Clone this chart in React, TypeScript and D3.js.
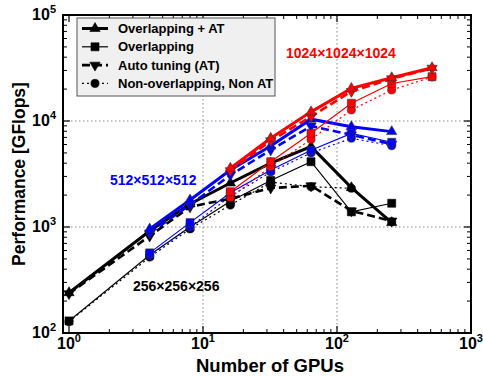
import React from "react";
import * as d3 from "d3";

const gpus = [1, 4, 8, 16, 32, 64, 128, 256, 512];

// 256x256x256 (black)
const blackOverAT = [240, 916, 1650, 2600, 4000, 5730, 2350, 1100];
const blackOver = [130, 545, 1000, 1750, 2750, 4130, 1390, 1675];
const blackAT = [235, 822, 1550, 1850, 2330, 2450, 1420, 1140];
const blackNon = [128, 520, 960, 1610, 2650, 2400, 2320, 1120];

// 512x512x512 (blue), from 4 GPUs
const blueOverAT = [957, 1800, 3450, 5800, 10400, 8830, 7940];
const blueOver = [570, 1100, 2100, 3450, 5300, 7650, 6300];
const blueAT = [876, 1620, 3090, 5320, 8960, 7400, 6050];
const blueNon = [540, 1000, 1950, 3300, 5000, 6870, 5850];

// 1024x1024x1024 (red), from 16 GPUs
const redOverAT = [3580, 6870, 12200, 20300, 25600, 31800];
const redOver = [2150, 4130, 7650, 14700, 22600, 26200];
const redAT = [3400, 6500, 11000, 19000, 25000, 31500];
const redNon = [1900, 3700, 6700, 12700, 19600, 26000];

const legendLabels = ["Overlapping + AT", "Overlapping", "Auto tuning (AT)", "Non-overlapping, Non AT"];
const xTicks = [1, 10, 100, 1000];
const yTicks = [100, 1000, 10000, 100000];
const sizeLabels = ["1024×1024×1024", "512×512×512", "256×256×256"];

type Style = { width: number; dash: string | null; marker: "up" | "down" | "square" | "circle" };
const styles: Style[] = [
  { width: 3, dash: null, marker: "up" },
  { width: 1.2, dash: null, marker: "square" },
  { width: 2.6, dash: "8,4", marker: "down" },
  { width: 1.2, dash: "2,3", marker: "circle" },
];

const FONT = "'Liberation Sans', Arial, Helvetica, sans-serif";

function markerPath(kind: string): string {
  if (kind === "up") return d3.symbol(d3.symbolTriangle, 46)() as string;
  if (kind === "down") return d3.symbol(d3.symbolTriangle, 46)() as string;
  if (kind === "square") return d3.symbol(d3.symbolSquare, 64)() as string;
  return d3.symbol(d3.symbolCircle, 52)() as string;
}

export default function App() {
  const W = 483, H = 377;
  const left = 63, right = 471, top = 15, bottom = 333;
  const x = d3.scaleLog().domain([0.902, 1000]).range([left, right]);
  const y = d3.scaleLog().domain([100, 100000]).range([bottom, top]);

  const groups = [
    { color: "#000000", start: 0, series: [blackOverAT, blackOver, blackAT, blackNon] },
    { color: "#0000ff", start: 1, series: [blueOverAT, blueOver, blueAT, blueNon] },
    { color: "#ff0000", start: 3, series: [redOverAT, redOver, redAT, redNon] },
  ];

  const line = d3.line<[number, number]>().x((d) => x(d[0])).y((d) => y(d[1]));

  const drawOrder = [3, 1, 2, 0];

  const xMinor: number[] = [];
  for (let e = 0; e < 3; e++) for (let k = 2; k <= 9; k++) xMinor.push(k * Math.pow(10, e));
  const yMinor: number[] = [];
  for (let e = 2; e < 5; e++) for (let k = 2; k <= 9; k++) yMinor.push(k * Math.pow(10, e));

  const renderMarker = (kind: string, cx: number, cy: number, fill: string, key: string) => (
    <path
      key={key}
      d={markerPath(kind)}
      transform={`translate(${cx},${cy})${kind === "down" ? " rotate(180)" : ""}`}
      fill={fill}
      stroke={fill === "#000000" ? "#000" : "#333"}
      strokeWidth={0.6}
    />
  );

  return (
    <svg width={W} height={H} style={{ display: "block", position: "absolute", left: 0, top: 0 }} fontFamily={FONT}>
      <rect x={0} y={0} width={W} height={H} fill="#fff" />
      {/* grid */}
      {[10, 100].map((v) => (
        <line key={"gx" + v} x1={x(v)} x2={x(v)} y1={top} y2={bottom} stroke="#888" strokeWidth={1} strokeDasharray="1.5,2.5" />
      ))}
      {[1000, 10000].map((v) => (
        <line key={"gy" + v} x1={left} x2={right} y1={y(v)} y2={y(v)} stroke="#888" strokeWidth={1} strokeDasharray="1.5,2.5" />
      ))}
      {/* ticks */}
      {xTicks.filter((v) => v < 1000).map((v) => (
        <g key={"xt" + v}>
          <line x1={x(v)} x2={x(v)} y1={bottom} y2={bottom - 7} stroke="#000" strokeWidth={1.2} />
          <line x1={x(v)} x2={x(v)} y1={top} y2={top + 7} stroke="#000" strokeWidth={1.2} />
        </g>
      ))}
      {xMinor.map((v) => (
        <g key={"xm" + v}>
          <line x1={x(v)} x2={x(v)} y1={bottom} y2={bottom - 4} stroke="#000" strokeWidth={1} />
          <line x1={x(v)} x2={x(v)} y1={top} y2={top + 4} stroke="#000" strokeWidth={1} />
        </g>
      ))}
      {yTicks.map((v) => (
        <g key={"yt" + v}>
          <line x1={left} x2={left + 7} y1={y(v)} y2={y(v)} stroke="#000" strokeWidth={1.2} />
          <line x1={right} x2={right - 7} y1={y(v)} y2={y(v)} stroke="#000" strokeWidth={1.2} />
        </g>
      ))}
      {yMinor.map((v) => (
        <g key={"ym" + v}>
          <line x1={left} x2={left + 4} y1={y(v)} y2={y(v)} stroke="#000" strokeWidth={1} />
          <line x1={right} x2={right - 4} y1={y(v)} y2={y(v)} stroke="#000" strokeWidth={1} />
        </g>
      ))}
      {/* series lines */}
      {groups.map((g, gi) =>
        drawOrder.map((si) => {
          const vals = g.series[si];
          const pts: [number, number][] = vals.map((v, i) => [gpus[g.start + i], v]);
          const st = styles[si];
          return (
            <path
              key={`l${gi}-${si}`}
              d={line(pts) as string}
              fill="none"
              stroke={g.color}
              strokeWidth={st.width}
              strokeDasharray={st.dash ?? undefined}
            />
          );
        })
      )}
      {/* markers */}
      {groups.map((g, gi) =>
        drawOrder.map((si) =>
          g.series[si].map((v, i) =>
            renderMarker(styles[si].marker, x(gpus[g.start + i]), y(v), g.color, `m${gi}-${si}-${i}`)
          )
        )
      )}
      {/* frame */}
      <rect x={left} y={top} width={right - left} height={bottom - top} fill="none" stroke="#000" strokeWidth={2} />
      {/* tick labels */}
      {xTicks.map((v, i) => (
        <text key={"xl" + v} x={x(v)} y={349} textAnchor="middle" fontSize={16} fontWeight="bold">
          <tspan>10</tspan>
          <tspan dy={-7} fontSize={11}>{String(i)}</tspan>
        </text>
      ))}
      {yTicks.map((v, i) => (
        <text key={"yl" + v} x={56} y={y(v) + 5} textAnchor="end" fontSize={16} fontWeight="bold">
          <tspan>10</tspan>
          <tspan dy={-7} fontSize={11}>{String(i + 2)}</tspan>
        </text>
      ))}
      {/* axis titles */}
      <text x={270} y={372} textAnchor="middle" fontSize={18.5} fontWeight="bold">Number of GPUs</text>
      <text transform="translate(25,174) rotate(-90)" textAnchor="middle" fontSize={17.5} fontWeight="bold">Performance [GFlops]</text>
      {/* size labels */}
      <text x={286} y={58} fontSize={14} fontWeight="bold" fill="#ff0000">{sizeLabels[0]}</text>
      <text x={110} y={185} fontSize={14} fontWeight="bold" fill="#0000ff">{sizeLabels[1]}</text>
      <text x={133} y={291} fontSize={14} fontWeight="bold" fill="#000">{sizeLabels[2]}</text>
      {/* legend */}
      <rect x={77} y={18} width={198} height={78} fill="#f0f0f0" stroke="#555" strokeWidth={1} />
      {legendLabels.map((lab, i) => {
        const ly = 28.5 + i * 18.3;
        const st = styles[i];
        return (
          <g key={"lg" + i}>
            <line x1={82} x2={108} y1={ly} y2={ly} stroke="#000" strokeWidth={st.width} strokeDasharray={st.dash ?? undefined} />
            {renderMarker(st.marker, 95, ly, "#000000", "lgm" + i)}
            <text x={118} y={ly + 4.5} fontSize={13} fontWeight="bold">{lab}</text>
          </g>
        );
      })}
    </svg>
  );
}
